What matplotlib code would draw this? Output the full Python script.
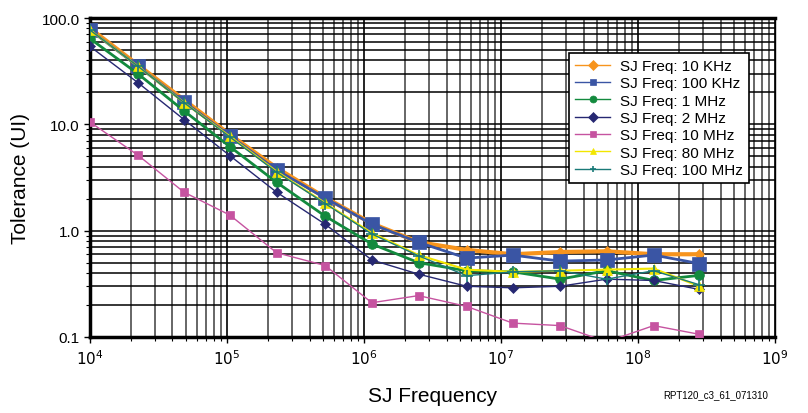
import matplotlib.pyplot as plt
import numpy as np

plt.rcParams['font.family'] = ['Liberation Sans', 'DejaVu Sans']

# SJ frequency points (Hz)
sj_freq = [1.0e4, 2.25e4, 4.85e4, 1.05e5, 2.3e5, 5.2e5, 1.14e6, 2.5e6,
           5.6e6, 1.22e7, 2.7e7, 5.9e7, 1.3e8, 2.8e8]

# tolerance (UI) for each SJ freq series
tol_10k = [80, 36, 17, 8.0, 3.9, 2.05, 1.17, 0.78, 0.66, 0.60, 0.63, 0.64, 0.60, 0.60]
tol_100k = [77, 35, 16.3, 7.8, 3.72, 2.03, 1.15, 0.776, 0.552, 0.589, 0.517, 0.53, 0.59, 0.49]
tol_1m = [64, 29.7, 13.4, 6.16, 2.85, 1.37, 0.75, 0.50, 0.42, 0.41, 0.35, 0.42, 0.34, 0.38]
tol_2m = [54, 24.5, 11.1, 5.07, 2.3, 1.15, 0.53, 0.39, 0.30, 0.29, 0.30, 0.35, 0.34, 0.28]
tol_10m = [10.5, 5.1, 2.3, 1.4, 0.62, 0.47, 0.21, 0.245, 0.194, 0.135, 0.128, 0.09, 0.128, 0.106]
tol_80m = [77, 35, 16, 7.7, 3.6, 1.82, 0.95, 0.59, 0.43, 0.41, 0.42, 0.43, 0.44, 0.30]
tol_100m = [77, 35, 16, 7.6, 3.55, 1.8, 0.93, 0.58, 0.377, 0.41, 0.42, 0.35, 0.42, 0.31]

series = [
    ('SJ Freq: 10 KHz', tol_10k, '#f7941d', 'D', 5, 3.0),
    ('SJ Freq: 100 KHz', tol_100k, '#3a55a4', 's', 10, 2.0),
    ('SJ Freq: 1 MHz', tol_1m, '#138a3e', 'o', 7, 2.0),
    ('SJ Freq: 2 MHz', tol_2m, '#262872', 'D', 5, 1.0),
    ('SJ Freq: 10 MHz', tol_10m, '#c653a0', 's', 6, 1.0),
    ('SJ Freq: 80 MHz', tol_80m, '#f2e600', '^', 7, 1.5),
    ('SJ Freq: 100 MHz', tol_100m, '#1a7a78', '+', 9, 1.0),
]

fig = plt.figure(figsize=(8.08, 4.14), dpi=100)
ax = fig.add_axes([0.1114, 0.1836, 0.8478, 0.7705])

for label, vals, color, marker, ms, lw in series:
    ax.plot(sj_freq, vals, color=color, marker=marker, markersize=ms, lw=lw,
            label=label, markeredgewidth=1.2 if marker == '+' else 0.5,
            clip_on=True, zorder=3)

ax.set_xscale('log')
ax.set_yscale('log')
ax.set_xlim(1e4, 1e9)
ax.set_ylim(0.1, 100)

ax.grid(True, which='both', axis='y', color='black', lw=1.1, zorder=1)
ax.grid(True, which='major', axis='x', color='black', lw=1.2, zorder=1)
ax.grid(True, which='minor', axis='x', color='#666666', lw=1.4, zorder=1)

ax.set_yticks([0.1, 1, 10, 100])
ax.set_yticklabels(['0.1', '1.0', '10.0', '100.0'])
ax.set_xticks([1e4, 1e5, 1e6, 1e7, 1e8, 1e9])
ax.set_xticklabels(['$10^{%d}$' % k for k in range(4, 10)])
ax.tick_params(axis='both', which='major', labelsize=11, length=4, width=1, direction='out')
ax.tick_params(axis='x', which='major', pad=4)
ax.tick_params(axis='both', which='minor', length=3, width=0.8)
ax.tick_params(axis='y', which='minor', labelleft=False)

for side in ['left', 'bottom', 'top']:
    ax.spines[side].set_linewidth(2.5)
ax.spines['right'].set_linewidth(1.0)

ax.set_xlabel('SJ Frequency', fontsize=15, labelpad=14)
ax.set_ylabel('Tolerance (UI)', fontsize=15, labelpad=8)

leg = ax.legend(loc='upper right', bbox_to_anchor=(0.9725, 0.915), fontsize=11,
                frameon=True, fancybox=False, edgecolor='black',
                borderpad=0.4, labelspacing=0.22, handlelength=2.3,
                handletextpad=0.6, framealpha=1)
leg.get_frame().set_linewidth(1.2)
for h in leg.legend_handles:
    h.set_linewidth(1.0)
    h.set_markersize(5)

fig.text(0.951, 0.045, 'RPT120_c3_61_071310', fontsize=7, ha='right', va='center')

fig.savefig('out.png', dpi=100)
